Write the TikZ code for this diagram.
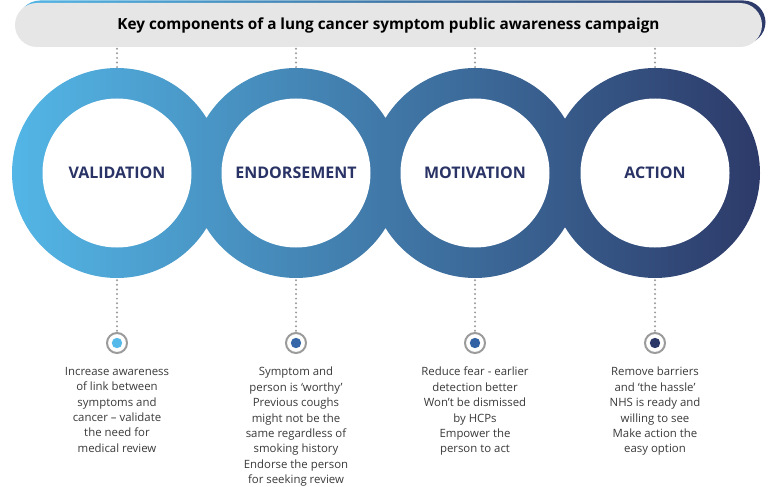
\documentclass[tikz,border=0pt]{standalone}
\usepackage{fontspec}
\setmainfont{Open Sans}
\usepackage{tikz}
\usetikzlibrary{positioning,calc}

\definecolor{ringleft}{HTML}{53B6E6}
\definecolor{ringmid}{HTML}{3B6FB1}
\definecolor{ringright}{HTML}{2D3A69}
\definecolor{labelnavy}{HTML}{2A3365}
\definecolor{bargray}{HTML}{E6E6E6}
\definecolor{dotgray}{HTML}{9B9B9B}
\definecolor{bodygray}{HTML}{3A3A3A}
\definecolor{pinA}{HTML}{55B9EA}
\definecolor{pinB}{HTML}{3466A8}
\definecolor{pinC}{HTML}{3262A3}
\definecolor{pinD}{HTML}{2B3766}

\begin{document}
\begin{tikzpicture}[x=1pt,y=-1pt,
    ring/.style={circle, minimum size=210pt, inner sep=0pt},
    ringlabel/.style={font=\fontsize{16}{18}\selectfont\bfseries, text=labelnavy},
    pin/.style={circle, draw=dotgray, line width=2pt, fill=white, minimum size=20pt, inner sep=0pt},
    dotline/.style={dotgray, line width=2.2pt, line cap=round, dash pattern=on 0pt off 4.6pt},
    body/.style={anchor=north, align=center, inner sep=0pt, text=bodygray,
        font=\fontsize{11.4}{15.4}\selectfont}]
    \useasboundingbox (0,0) rectangle (769,487);
    \fill[white] (0,0) rectangle (769,487);

    % Define the rings
    \def\ringsOuter{(117,173) circle (105pt) (296,173) circle (105pt)
        (475,173) circle (105pt) (655,173) circle (105pt)}

    % Title bar with its blue edge
    \shade[left color=ringleft, middle color=ringmid, right color=ringright,
        rounded corners=22pt] (18,0.5) rectangle (765.5,44);
    \node[fill=bargray, rounded corners=22pt, minimum width=747pt, minimum height=44pt,
        inner sep=0pt] (title) at (388.5,25) {};
    \node[font=\fontsize{15.3}{18}\selectfont\bfseries, text=black] (titletext) at (title.center)
        {Key components of a lung cancer symptom public awareness campaign};

    % Fill the rings with one shading
    \shade[left color=ringleft, middle color=ringmid, right color=ringright] \ringsOuter;
    \node[ring] (validation) at (117,173) {};
    \node[ring] (endorsement) at (296,173) {};
    \node[ring] (motivation) at (475,173) {};
    \node[ring] (action) at (655,173) {};
    \foreach \r in {validation,endorsement,motivation,action}
        \fill[white] (\r.center) circle (74.5pt);

    % Add labels
    \node[ringlabel] (labA) at (validation.center) {VALIDATION};
    \node[ringlabel] (labB) at (endorsement.center) {ENDORSEMENT};
    \node[ringlabel] (labC) at (motivation.center) {MOTIVATION};
    \node[ringlabel] (labD) at (action.center) {ACTION};

    % Pins under the rings
    \node[pin] (pinA) at (117,343) {};
    \node[pin] (pinB) at (296,343) {};
    \node[pin] (pinC) at (475,343) {};
    \node[pin] (pinD) at (655,343) {};
    \fill[pinA] (pinA.center) circle (5.2pt);
    \fill[pinB] (pinB.center) circle (5.2pt);
    \fill[pinC] (pinC.center) circle (5.2pt);
    \fill[pinD] (pinD.center) circle (5.2pt);

    % Dotted links
    \foreach \r/\p in {validation/pinA,endorsement/pinB,motivation/pinC,action/pinD} {
        \draw[dotline] (\r.north |- title.south) ++(0,1.5) -- (\r.north);
        \draw[dotline] (\r.south) ++(0,2) -- (\p.north);
    }

    % Add descriptions
    \node[body] (textA) at (117,367) {Increase awareness\\of link between\\symptoms and\\cancer -- validate\\the need for\\medical review};
    \node[body] (textB) at (296,367) {Symptom and\\person is ‘worthy’\\Previous coughs\\might not be the\\same regardless of\\smoking history\\Endorse the person\\for seeking review};
    \node[body] (textC) at (475,367) {Reduce fear - earlier\\detection better\\Won’t be dismissed\\by HCPs\\Empower the\\person to act};
    \node[body] (textD) at (655,367) {Remove barriers\\and ‘the hassle’\\NHS is ready and\\willing to see\\Make action the\\easy option};
\end{tikzpicture}
\end{document}
